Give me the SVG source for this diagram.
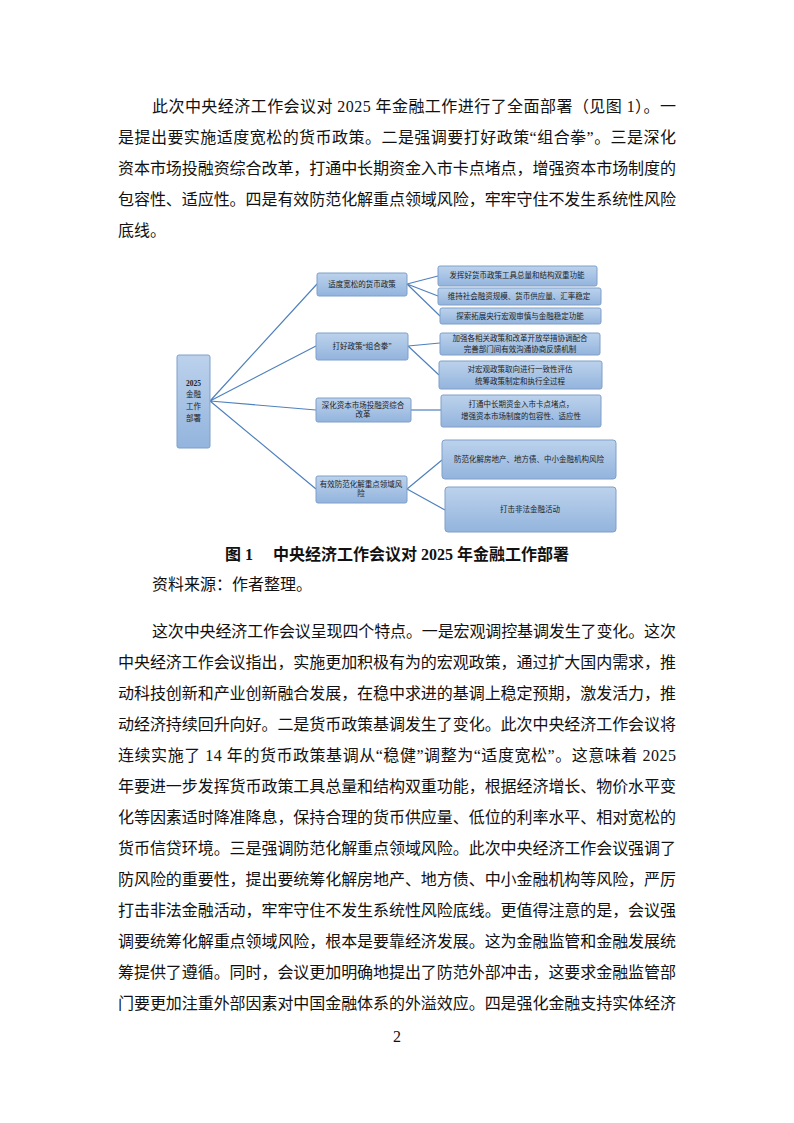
<svg xmlns="http://www.w3.org/2000/svg" width="794" height="1123" viewBox="0 0 794 1123">
<defs>
<linearGradient id="g" x1="0" y1="0" x2="0" y2="1"><stop offset="0" stop-color="#bcd2ec"/><stop offset="1" stop-color="#93b4dd"/></linearGradient>
<style>
.b{fill:url(#g);stroke:#7f9fc9;stroke-width:1}
.t{font-family:"Liberation Serif","Noto Sans CJK SC",serif;font-size:16px;fill:#111}
.s{font-family:"Liberation Serif","Noto Sans CJK SC",serif;font-size:7.5px;fill:#222;text-anchor:middle}
.c{stroke:#4f81bd;stroke-width:1.2;fill:none}
</style>
</defs>
<rect width="794" height="1123" fill="#fff"/>
<g class="t">
<text x="152" y="112" textLength="524" lengthAdjust="spacing">此次中央经济工作会议对 2025 年金融工作进行了全面部署（见图 1）。一</text>
<text x="118" y="143" textLength="558" lengthAdjust="spacing">是提出要实施适度宽松的货币政策。二是强调要打好政策“组合拳”。三是深化</text>
<text x="118" y="174" textLength="558" lengthAdjust="spacing">资本市场投融资综合改革，打通中长期资金入市卡点堵点，增强资本市场制度的</text>
<text x="118" y="205" textLength="558" lengthAdjust="spacing">包容性、适应性。四是有效防范化解重点领域风险，牢牢守住不发生系统性风险</text>
<text x="118" y="236">底线。</text>
<text x="397" y="560" text-anchor="middle" font-weight="bold">图 1　 中央经济工作会议对 2025 年金融工作部署</text>
<text x="152" y="590">资料来源：作者整理。</text>
<text x="152" y="637" textLength="524" lengthAdjust="spacing">这次中央经济工作会议呈现四个特点。一是宏观调控基调发生了变化。这次</text>
<text x="118" y="668" textLength="558" lengthAdjust="spacing">中央经济工作会议指出，实施更加积极有为的宏观政策，通过扩大国内需求，推</text>
<text x="118" y="699" textLength="558" lengthAdjust="spacing">动科技创新和产业创新融合发展，在稳中求进的基调上稳定预期，激发活力，推</text>
<text x="118" y="730" textLength="558" lengthAdjust="spacing">动经济持续回升向好。二是货币政策基调发生了变化。此次中央经济工作会议将</text>
<text x="118" y="761" textLength="558" lengthAdjust="spacing">连续实施了 14 年的货币政策基调从“稳健”调整为“适度宽松”。这意味着 2025</text>
<text x="118" y="792" textLength="558" lengthAdjust="spacing">年要进一步发挥货币政策工具总量和结构双重功能，根据经济增长、物价水平变</text>
<text x="118" y="823" textLength="558" lengthAdjust="spacing">化等因素适时降准降息，保持合理的货币供应量、低位的利率水平、相对宽松的</text>
<text x="118" y="854" textLength="558" lengthAdjust="spacing">货币信贷环境。三是强调防范化解重点领域风险。此次中央经济工作会议强调了</text>
<text x="118" y="885" textLength="558" lengthAdjust="spacing">防风险的重要性，提出要统筹化解房地产、地方债、中小金融机构等风险，严厉</text>
<text x="118" y="916" textLength="558" lengthAdjust="spacing">打击非法金融活动，牢牢守住不发生系统性风险底线。更值得注意的是，会议强</text>
<text x="118" y="947" textLength="558" lengthAdjust="spacing">调要统筹化解重点领域风险，根本是要靠经济发展。这为金融监管和金融发展统</text>
<text x="118" y="978" textLength="558" lengthAdjust="spacing">筹提供了遵循。同时，会议更加明确地提出了防范外部冲击，这要求金融监管部</text>
<text x="118" y="1009" textLength="558" lengthAdjust="spacing">门要更加注重外部因素对中国金融体系的外溢效应。四是强化金融支持实体经济</text>
<text x="397" y="1042" text-anchor="middle">2</text>
</g>
<g id="connectors" class="c">
<path d="M210 401L317 284M210 401L316 346M210 401L316 410M210 401L316 489"/>
<path d="M407 284L438 276M407 284L438 296M407 284L440 316"/>
<path d="M408 346L440 343M408 346L439 375"/>
<path d="M411 410L441 410"/>
<path d="M407 489L442 460M407 489L445 510"/>
</g>
<g id="root"><rect class="b" x="177" y="355" width="33" height="93" rx="2"/>
<text class="s" font-weight="bold" x="193.5" y="386">2025</text><text class="s" x="193.5" y="397">金融</text><text class="s" x="193.5" y="409">工作</text><text class="s" x="193.5" y="421">部署</text></g>
<g id="m1"><rect class="b" x="317" y="273" width="90" height="23" rx="2"/><text class="s" x="362" y="287">适度宽松的货币政策</text></g>
<g id="m2"><rect class="b" x="316" y="333" width="92" height="27" rx="2"/><text class="s" x="362" y="349">打好政策“组合拳”</text></g>
<g id="m3"><rect class="b" x="316" y="398" width="95" height="24" rx="2"/><text class="s" x="363" y="408">深化资本市场投融资综合</text><text class="s" x="363" y="417">改革</text></g>
<g id="m4"><rect class="b" x="316" y="476" width="91" height="27" rx="2"/><text class="s" x="361" y="487">有效防范化解重点领域风</text><text class="s" x="361" y="496">险</text></g>
<g id="r1"><rect class="b" x="438" y="266" width="159" height="20" rx="2"/><text class="s" x="517" y="278">发挥好货币政策工具总量和结构双重功能</text></g>
<g id="r2"><rect class="b" x="438" y="288" width="163" height="17" rx="2"/><text class="s" x="519" y="299">维持社会融资规模、货币供应量、汇率稳定</text></g>
<g id="r3"><rect class="b" x="440" y="308" width="161" height="16" rx="2"/><text class="s" x="520" y="319">探索拓展央行宏观审慎与金融稳定功能</text></g>
<g id="r4"><rect class="b" x="440" y="333" width="160" height="22" rx="2"/><text class="s" x="520" y="341">加强各相关政策和改革开放举措协调配合</text><text class="s" x="520" y="352">完善部门间有效沟通协商反馈机制</text></g>
<g id="r5"><rect class="b" x="439" y="361" width="163" height="28" rx="2"/><text class="s" x="520" y="372">对宏观政策取向进行一致性评估</text><text class="s" x="520" y="384">统筹政策制定和执行全过程</text></g>
<g id="r6"><rect class="b" x="441" y="395" width="160" height="32" rx="2"/><text class="s" x="521" y="407">打通中长期资金入市卡点堵点，</text><text class="s" x="521" y="419">增强资本市场制度的包容性、适应性</text></g>
<g id="r7"><rect class="b" x="442" y="440" width="174" height="39" rx="3"/><text class="s" x="529" y="462">防范化解房地产、地方债、中小金融机构风险</text></g>
<g id="r8"><rect class="b" x="445" y="487" width="171" height="45" rx="3"/><text class="s" x="530" y="512">打击非法金融活动</text></g>
</svg>
